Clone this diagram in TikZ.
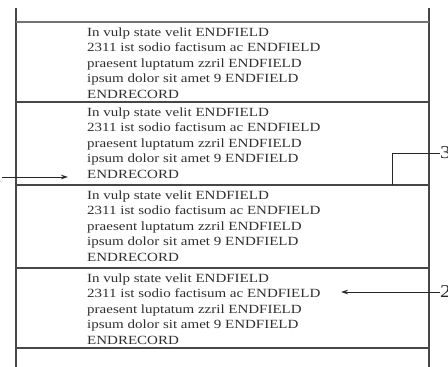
\documentclass[tikz,border=0pt]{standalone}
\usepackage{fontspec}
\setmainfont{Liberation Serif}[FakeStretch=1.2]
\usetikzlibrary{arrows.meta}
\newcommand\myrecord[2]{%
  \node[rectext] (r#1a) at (87,#2+14) {In vulp state velit ENDFIELD};
  \node[rectext] (r#1b) at (87,#2+29.5) {2311 ist sodio factisum ac ENDFIELD};
  \node[rectext] (r#1c) at (87,#2+45) {praesent luptatum zzril ENDFIELD};
  \node[rectext] (r#1d) at (87,#2+60.5) {ipsum dolor sit amet 9 ENDFIELD};
  \node[rectext] (r#1e) at (87,#2+76) {ENDRECORD};
}
\begin{document}
\begin{tikzpicture}[x=1pt,y=-1pt,
  rule/.style={draw=black!72,line width=1.3pt},
  thickrule/.style={draw=black!55,line width=2.8pt},
  rectext/.style={anchor=base west,inner sep=0pt,font=\fontsize{12.5}{15.5}\selectfont,text=black!82},
  lead/.style={draw=black!85,line width=1pt},
  lbl/.style={anchor=west,inner sep=0pt,font=\fontsize{18}{20}\selectfont,text=black!85}]
\useasboundingbox (0,0) rectangle (448,367);
% frame verticals
\coordinate (TL) at (16,8);
\coordinate (BL) at (16,367);
\coordinate (TR) at (429,8);
\coordinate (BR) at (429,367);
\draw[rule] (TL) -- (BL);
\draw[rule] (TR) -- (BR);
% record separators
\coordinate (hL1) at (16,22);
\coordinate (hR1) at (429,22);
\draw[thickrule] (hL1) -- (hR1);
\foreach \i/\y in {2/102,3/185,4/268,5/348}{
  \coordinate (hL\i) at (16,\y);
  \coordinate (hR\i) at (429,\y);
  \draw[rule] (hL\i) -- (hR\i);
}
% record texts
\myrecord{1}{22}
\myrecord{2}{102}
\myrecord{3}{185}
\myrecord{4}{268}
% label 1 arrow
\node[lbl,anchor=east] (l1) at (2,177) {1};
\coordinate (a1e) at (68,177);
\draw[lead,-{Stealth[length=7pt,width=4.5pt]}] (l1.east) -- (a1e);
% label 3 bracket
\coordinate (b3a) at (392,185);
\coordinate (b3b) at (392,153);
\node[lbl] (l3) at (440,153) {3};
\draw[lead] (b3a) -- (b3b) -- (l3.west);
% label 2 arrow
\node[lbl] (l2) at (440,292) {2};
\coordinate (a2e) at (341,292);
\draw[lead,-{Stealth[length=7pt,width=4.5pt]}] (l2.west) -- (a2e);
\end{tikzpicture}
\end{document}
